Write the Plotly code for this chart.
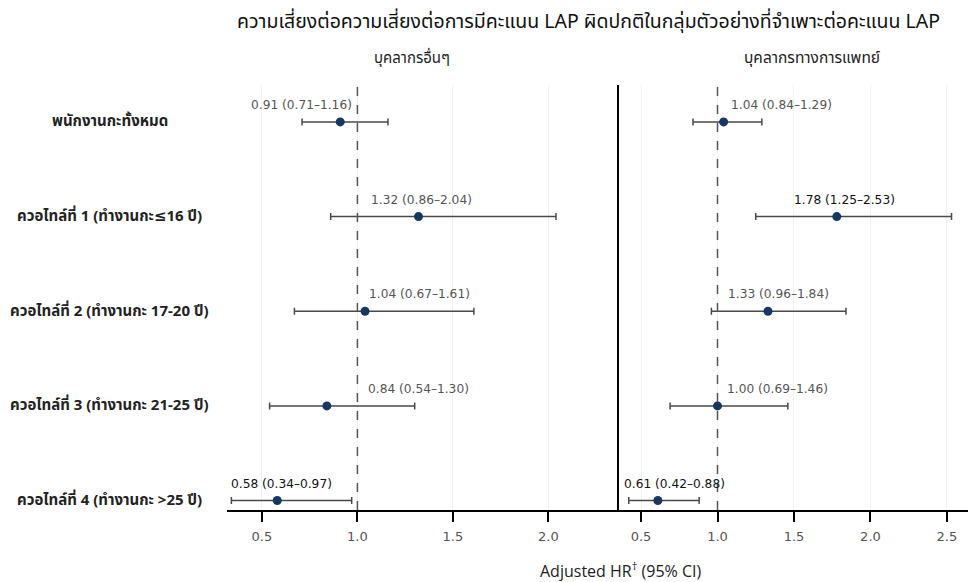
import plotly.graph_objects as go

# ---------------- data ----------------
row_labels = [
    "พนักงานกะทั้งหมด",
    "ควอไทล์ที่ 1 (ทำงานกะ≤16 ปี)",
    "ควอไทล์ที่ 2 (ทำงานกะ 17-20 ปี)",
    "ควอไทล์ที่ 3 (ทำงานกะ 21-25 ปี)",
    "ควอไทล์ที่ 4 (ทำงานกะ >25 ปี)",
]
panel_titles = ["บุคลากรอื่นๆ", "บุคลากรทางการแพทย์"]

other_hr = [0.91, 1.32, 1.04, 0.84, 0.58]
other_lo = [0.71, 0.86, 0.67, 0.54, 0.34]
other_hi = [1.16, 2.04, 1.61, 1.30, 0.97]

med_hr = [1.04, 1.78, 1.33, 1.00, 0.61]
med_lo = [0.84, 1.25, 0.96, 0.69, 0.42]
med_hi = [1.29, 2.53, 1.84, 1.46, 0.88]

x_ticks_other = [0.5, 1.0, 1.5, 2.0]
x_ticks_med = [0.5, 1.0, 1.5, 2.0, 2.5]

title_text = "ความเสี่ยงต่อความเสี่ยงต่อการมีคะแนน LAP ผิดปกติในกลุ่มตัวอย่างที่จำเพาะต่อคะแนน LAP"
x_title = "Adjusted HR<sup>†</sup> (95% CI)"

# ---------------- layout / style (page pixel based) ----------------
OFF = 8                      # page body margin
W, H = 976 - OFF, 582 - OFF  # figure size
L = 227 - OFF
T = 85 - OFF
B = H - (510 - OFF)
R = 0
split_px = 619
PW = W - L - R
PH = H - T - B


def px_x(p):
    return (p - OFF - L) / PW


def px_y(p):
    return (H - B - (p - OFF)) / PH


# label horizontal offsets (px) to mimic original label placement
shift_other = [-39, 3, 54, 92, 4]
shift_med = [58, 8, 11, 60, 17]

THAI = "Tahoma, 'Noto Sans Thai', 'Noto Sans Thai UI', 'Loma', 'Garuda', 'DejaVu Sans', sans-serif"
NUM = "'DejaVu Sans', Verdana, sans-serif"

fig = go.Figure()
rows = list(range(len(row_labels)))

panels = [
    (other_hr, other_lo, other_hi, "x", "y", shift_other),
    (med_hr, med_lo, med_hi, "x2", "y2", shift_med),
]

annotations = []
for hr, lo, hi, xa, ya, shifts in panels:
    fig.add_trace(go.Scatter(
        x=hr, y=rows, xaxis=xa, yaxis=ya, mode="markers",
        marker=dict(color="#17375e", size=9),
        error_x=dict(type="data", symmetric=False,
                     array=[h - v for h, v in zip(hi, hr)],
                     arrayminus=[v - l for v, l in zip(hr, lo)],
                     color="#4a4a4a", thickness=1.5, width=3.5),
        showlegend=False, hoverinfo="skip",
    ))
    for i in rows:
        sig = hi[i] < 1 or lo[i] > 1
        annotations.append(dict(
            x=hr[i], y=i, xref=xa, yref=ya,
            text=f"{hr[i]:.2f} ({lo[i]:.2f}–{hi[i]:.2f})",
            showarrow=False, xanchor="center", yanchor="middle",
            xshift=shifts[i], yshift=17,
            font=dict(family=NUM, size=12.2, color="#111111" if sig else "#555555"),
        ))

# row labels
for i, lab in enumerate(row_labels):
    annotations.append(dict(
        x=px_x(110), y=i, xref="paper", yref="y", text=f"<b>{lab}</b>",
        showarrow=False, xanchor="center", yanchor="middle",
        font=dict(family=THAI, size=15, color="#222222"),
    ))

# panel titles
annotations.append(dict(x=px_x(412), y=px_y(58), xref="paper", yref="paper",
                        text=panel_titles[0], showarrow=False,
                        xanchor="center", yanchor="middle",
                        font=dict(family=THAI, size=15, color="#222222")))
annotations.append(dict(x=px_x(812), y=px_y(58), xref="paper", yref="paper",
                        text=panel_titles[1], showarrow=False,
                        xanchor="center", yanchor="middle",
                        font=dict(family=THAI, size=15.5, color="#222222")))
# main title
annotations.append(dict(x=px_x(588), y=px_y(22), xref="paper", yref="paper",
                        text=title_text, showarrow=False,
                        xanchor="center", yanchor="middle",
                        font=dict(family=THAI, size=19.5, color="#111111")))
# x axis title
annotations.append(dict(x=px_x(620), y=px_y(570), xref="paper", yref="paper",
                        text=x_title, showarrow=False,
                        xanchor="center", yanchor="middle",
                        font=dict(family="'Open Sans', sans-serif", size=16, color="#222222")))

shapes = []
for xa in ["x", "x2"]:
    shapes.append(dict(type="line", xref=xa, yref="paper", x0=1, x1=1, y0=0, y1=1,
                       line=dict(color="#555555", width=1.5, dash="dash")))

split = px_x(split_px)
common_x = dict(showgrid=True, gridcolor="#edf3f3", gridwidth=1, zeroline=False,
                showline=True, linecolor="black", linewidth=1.5,
                ticks="outside", tickcolor="black", ticklen=10, tickwidth=1.5,
                ticklabelstandoff=4,
                tickfont=dict(family=NUM, size=13, color="#555555"),
                tickformat=".1f")
common_y = dict(range=[4.1, -0.39], showgrid=False, zeroline=False,
                showticklabels=False, ticks="")

fig.update_layout(
    width=W, height=H,
    margin=dict(l=L, r=R, t=T, b=B),
    paper_bgcolor="white", plot_bgcolor="white",
    xaxis=dict(domain=[0, split], range=[0.317, 2.37], tickvals=x_ticks_other, anchor="y", **common_x),
    xaxis2=dict(domain=[split, 1], range=[0.356, 2.69], tickvals=x_ticks_med, anchor="y2", **common_x),
    yaxis=dict(domain=[0, 1], anchor="x", showline=False, **common_y),
    yaxis2=dict(domain=[0, 1], anchor="x2", showline=True, linecolor="black", linewidth=2, **common_y),
    annotations=annotations,
    shapes=shapes,
)

fig.write_html("out.html")
